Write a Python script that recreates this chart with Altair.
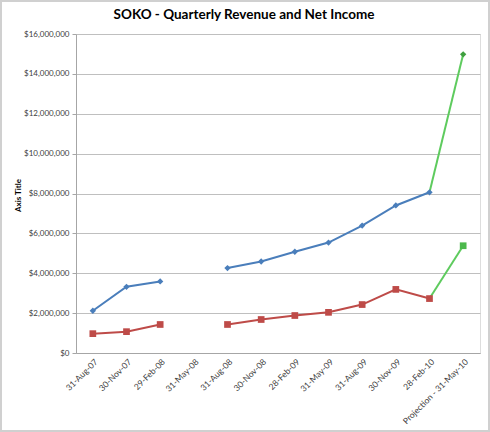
import altair as alt
import pandas as pd

categories = ["31-Aug-07", "30-Nov-07", "29-Feb-08", "31-May-08", "31-Aug-08", "30-Nov-08",
              "28-Feb-09", "31-May-09", "31-Aug-09", "30-Nov-09", "28-Feb-10", "Projection - 31-May-10"]
revenue = [2120000, 3320000, 3590000, None, 4260000, 4590000, 5080000, 5540000, 6390000, 7400000, 8060000, 14980000]
net_income = [970000, 1070000, 1430000, None, 1430000, 1680000, 1880000, 2040000, 2430000, 3190000, 2730000, 5380000]
y_ticks = [0, 2000000, 4000000, 6000000, 8000000, 10000000, 12000000, 14000000, 16000000]
title_text = "SOKO - Quarterly Revenue and Net Income"

rows = []
n = len(categories)
for series, vals in (("Revenue", revenue), ("Net Income", net_income)):
    seg = 0
    for i, (c, v) in enumerate(zip(categories, vals)):
        if v is None:
            seg += 1
            continue
        if i < n - 1:
            rows.append({"cat": c, "value": v, "series": series, "seg": f"{series}-{seg}", "kind": "actual"})
    rows.append({"cat": categories[n - 2], "value": vals[n - 2], "series": series, "seg": f"{series}-proj", "kind": "proj"})
    rows.append({"cat": categories[n - 1], "value": vals[n - 1], "series": series, "seg": f"{series}-proj", "kind": "proj"})
df = pd.DataFrame(rows)

x_enc = alt.X("cat:N", sort=categories, scale=alt.Scale(domain=categories, paddingOuter=0.5),
              axis=alt.Axis(title=None, labelAngle=-45, labelAlign="right", labelBaseline="top",
                            labelFontSize=8.5, labelColor="#404040", labelFont="Lato",
                            ticks=False, domainColor="#a6a6a6", grid=False, labelPadding=4,
                            labelLimit=200))
y_enc = alt.Y("value:Q", scale=alt.Scale(domain=[0, 16000000], nice=False),
              axis=alt.Axis(title="Axis Title", values=y_ticks, format="$,.0f",
                            labelFontSize=8, labelColor="#404040", labelFont="Lato",
                            titleFont="Lato", titleFontSize=8, titleFontWeight="bold", titleColor="#000000",
                            titleX=-58, titleY=161, titleAlign="center", titleBaseline="middle",
                            tickSize=4, tickColor="#a6a6a6", domainColor="#a6a6a6",
                            gridColor="#bfbfbf", gridWidth=1, labelPadding=3))

actual = df[df.kind == "actual"]
proj = df[df.kind == "proj"]

color_scale = alt.Scale(domain=["Revenue", "Net Income"], range=["#4a7ebb", "#be4b48"])

lines = alt.Chart(actual).mark_line(strokeWidth=2).encode(
    x=x_enc, y=y_enc, detail="seg:N",
    color=alt.Color("series:N", scale=color_scale, legend=None))
proj_lines = alt.Chart(proj).mark_line(strokeWidth=2, color="#5ecb5e").encode(
    x=x_enc, y=y_enc, detail="seg:N")

rev_pts = alt.Chart(actual[actual.series == "Revenue"]).mark_point(
    shape="diamond", filled=True, size=40, color="#4a7ebb", opacity=1).encode(x=x_enc, y=y_enc)
ni_pts = alt.Chart(actual[actual.series == "Net Income"]).mark_point(
    shape="square", filled=True, size=45, color="#be4b48", opacity=1).encode(x=x_enc, y=y_enc)
proj_last = proj[proj.cat == categories[-1]]
proj_rev_pt = alt.Chart(proj_last[proj_last.series == "Revenue"]).mark_point(
    shape="diamond", filled=True, size=40, color="#3f9f3f", opacity=1).encode(x=x_enc, y=y_enc)
proj_ni_pt = alt.Chart(proj_last[proj_last.series == "Net Income"]).mark_point(
    shape="square", filled=True, size=45, color="#4cb84c", opacity=1).encode(x=x_enc, y=y_enc)

decor = pd.DataFrame({"t": [title_text]})
border = alt.Chart(decor).mark_rect(
    fill=None, stroke="#d0d0d0", strokeWidth=2, clip=False).encode(
    x=alt.value(-75), x2=alt.value(413), y=alt.value(-33), y2=alt.value(397))
title = alt.Chart(decor).mark_text(
    font="Lato", fontSize=13.5, fontWeight="bold", color="#000000", align="center", baseline="middle").encode(
    text="t:N", x=alt.value(168), y=alt.value(-19))

chart = alt.layer(border, title, lines, proj_lines, rev_pts, ni_pts, proj_rev_pt, proj_ni_pt).properties(
    width=404, height=319,
    autosize=alt.AutoSizeParams(type="none"),
    padding={"left": 76, "top": 34, "right": 10, "bottom": 79},
).configure_view(stroke=None).configure(background="white")

chart.save("out.html", embed_options={"renderer": "svg", "actions": False})
